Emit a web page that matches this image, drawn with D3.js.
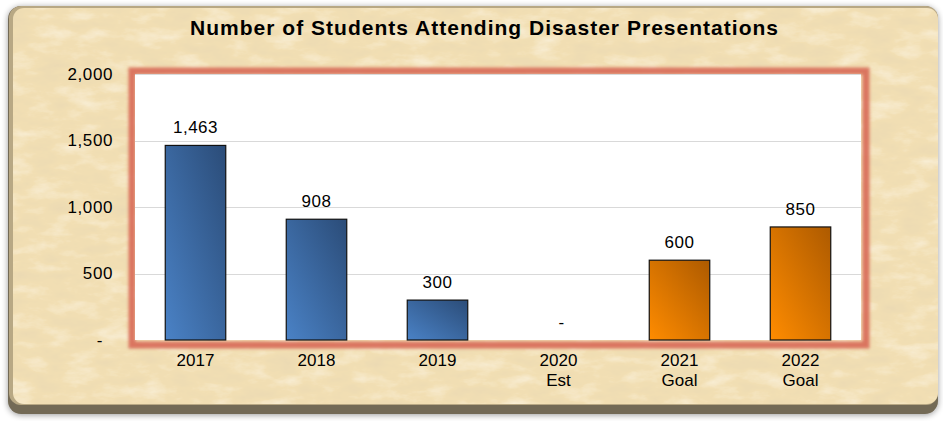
<!DOCTYPE html>
<html>
<head>
<meta charset="utf-8">
<script src="https://cdn.jsdelivr.net/npm/d3@7"></script>
<style>
html,body{margin:0;padding:0;background:#ffffff;}
svg{display:block;font-family:Arial,"Liberation Sans",sans-serif;}
</style>
</head>
<body>
<svg id="chart" width="943" height="421"></svg>
<script>
const title = "Number of Students Attending Disaster Presentations";
const categories = [["2017"],["2018"],["2019"],["2020","Est"],["2021","Goal"],["2022","Goal"]];
const values = [1463, 908, 300, 0, 600, 850];
const seriesKind = ["actual","actual","actual","actual","goal","goal"];
const yTicks = [0, 500, 1000, 1500, 2000];

const svg = d3.select("#chart");
const defs = svg.append("defs");

// parchment texture
const tex = defs.append("filter").attr("id","paper").attr("x",0).attr("y",0).attr("width","100%").attr("height","100%");
tex.append("feTurbulence").attr("type","fractalNoise").attr("baseFrequency","0.03 0.07").attr("numOctaves",5).attr("seed",11).attr("result","noise");
tex.append("feColorMatrix").attr("in","noise").attr("type","matrix")
  .attr("values","0 0 0 0 0.78  0 0 0 0 0.66  0 0 0 0 0.45  0 0 0 -1.2 0.62").attr("result","dark");
tex.append("feColorMatrix").attr("in","noise").attr("type","matrix")
  .attr("values","0 0 0 0 1  0 0 0 0 0.96  0 0 0 0 0.86  0 0 0 1.2 -0.6").attr("result","light");
tex.append("feComposite").attr("in","dark").attr("in2","SourceGraphic").attr("operator","atop").attr("result","d1");
tex.append("feComposite").attr("in","light").attr("in2","d1").attr("operator","atop");

const shadow = defs.append("filter").attr("id","outerShadow").attr("x","-5%").attr("y","-5%").attr("width","110%").attr("height","115%");
shadow.append("feGaussianBlur").attr("in","SourceAlpha").attr("stdDeviation",3);
shadow.append("feOffset").attr("dx",0).attr("dy",1).attr("result","b");
shadow.append("feComponentTransfer").append("feFuncA").attr("type","linear").attr("slope",0.4);
const m = shadow.append("feMerge"); m.append("feMergeNode"); m.append("feMergeNode").attr("in","SourceGraphic");

const glow = defs.append("filter").attr("id","glow").attr("x","-10%").attr("y","-10%").attr("width","120%").attr("height","125%");
glow.append("feGaussianBlur").attr("stdDeviation",1.6);

const gBlue = defs.append("linearGradient").attr("id","gBlue").attr("x1","0").attr("y1","1").attr("x2","1").attr("y2","0");
gBlue.append("stop").attr("offset","0").attr("stop-color","#4a82c6");
gBlue.append("stop").attr("offset","1").attr("stop-color","#2b4c78");
const gOr = defs.append("linearGradient").attr("id","gOrange").attr("x1","0").attr("y1","1").attr("x2","1").attr("y2","0");
gOr.append("stop").attr("offset","0").attr("stop-color","#ff8c00");
gOr.append("stop").attr("offset","1").attr("stop-color","#ad5a00");

// outer panel
svg.append("rect").attr("x",8).attr("y",6).attr("width",930).attr("height",408).attr("rx",13)
  .attr("fill","#736a57").attr("filter","url(#outerShadow)");
svg.append("rect").attr("x",9).attr("y",6).attr("width",929).attr("height",399).attr("rx",12)
  .attr("fill","#b8a884");
svg.append("rect").attr("x",13).attr("y",8).attr("width",925).attr("height",396).attr("rx",11)
  .attr("fill","#f2dfb3").attr("filter","url(#paper)");

// plot area
const plot = {left:135, right:861, top:74, bottom:340};
svg.append("rect").attr("x",plot.left-3).attr("y",plot.top-3).attr("width",plot.right-plot.left+8).attr("height",plot.bottom-plot.top+8)
  .attr("fill","none").attr("stroke","#d86a56").attr("stroke-width",7).attr("opacity",0.9).attr("filter","url(#glow)");
svg.append("rect").attr("x",plot.left).attr("y",plot.top).attr("width",plot.right-plot.left).attr("height",plot.bottom-plot.top)
  .attr("fill","#ffffff");

const x = d3.scaleBand().domain(d3.range(values.length)).range([plot.left, plot.right]).paddingInner(0.5).paddingOuter(0.25);
const y = d3.scaleLinear().domain([0, 2000]).range([plot.bottom, plot.top]);

// gridlines
svg.append("g").selectAll("line").data(yTicks.filter(d=>d>0)).join("line")
  .attr("x1",plot.left).attr("x2",plot.right)
  .attr("y1",d=>Math.round(y(d))+0.5).attr("y2",d=>Math.round(y(d))+0.5)
  .attr("stroke","#d9d9d9").attr("stroke-width",1);

// y axis
const yAxis = d3.axisLeft(y).tickValues(yTicks).tickSize(0).tickPadding(0)
  .tickFormat(d => d === 0 ? "-" : d3.format(",")(d));
const ya = svg.append("g").attr("transform",`translate(${plot.left-22},0)`).call(yAxis);
ya.select(".domain").remove();
ya.selectAll("text").attr("font-size",17).attr("letter-spacing","0.6px").attr("fill","#000")
  .attr("font-family","Arial,'Liberation Sans',sans-serif")
  .attr("dx",d => d === 0 ? -10 : 0);

// bars
svg.append("g").selectAll("rect").data(values).join("rect")
  .attr("x",(d,i)=>x(i)).attr("width",x.bandwidth())
  .attr("y",d=>y(d)).attr("height",d=>y(0)-y(d))
  .attr("fill",(d,i)=>seriesKind[i]==="goal"?"url(#gOrange)":"url(#gBlue)")
  .attr("stroke",d=>d>0?"#111":"none").attr("stroke-width",1.2);

// value labels
svg.append("g").selectAll("text").data(values).join("text")
  .attr("x",(d,i)=>x(i)+x.bandwidth()/2 + (d===0?3:0)).attr("y",d=>y(d)-12)
  .attr("text-anchor","middle").attr("font-size",17).attr("letter-spacing","0.5px").attr("fill","#000")
  .text(d => d === 0 ? "-" : d3.format(",")(d));

// x axis labels
const xl = svg.append("g").selectAll("text").data(categories).join("text")
  .attr("x",(d,i)=>x(i)+x.bandwidth()/2).attr("y",366)
  .attr("text-anchor","middle").attr("font-size",17).attr("fill","#000");
xl.selectAll("tspan").data(d=>d).join("tspan")
  .attr("x",function(){return d3.select(this.parentNode).attr("x");})
  .attr("dy",(d,i)=>i===0?0:20).text(d=>d);

// title
svg.append("text").attr("x",484).attr("y",35).attr("text-anchor","middle")
  .attr("font-size",21).attr("font-weight","bold").attr("fill","#000")
  .attr("textLength",588).attr("lengthAdjust","spacing").text(title);
</script>
</body>
</html>
